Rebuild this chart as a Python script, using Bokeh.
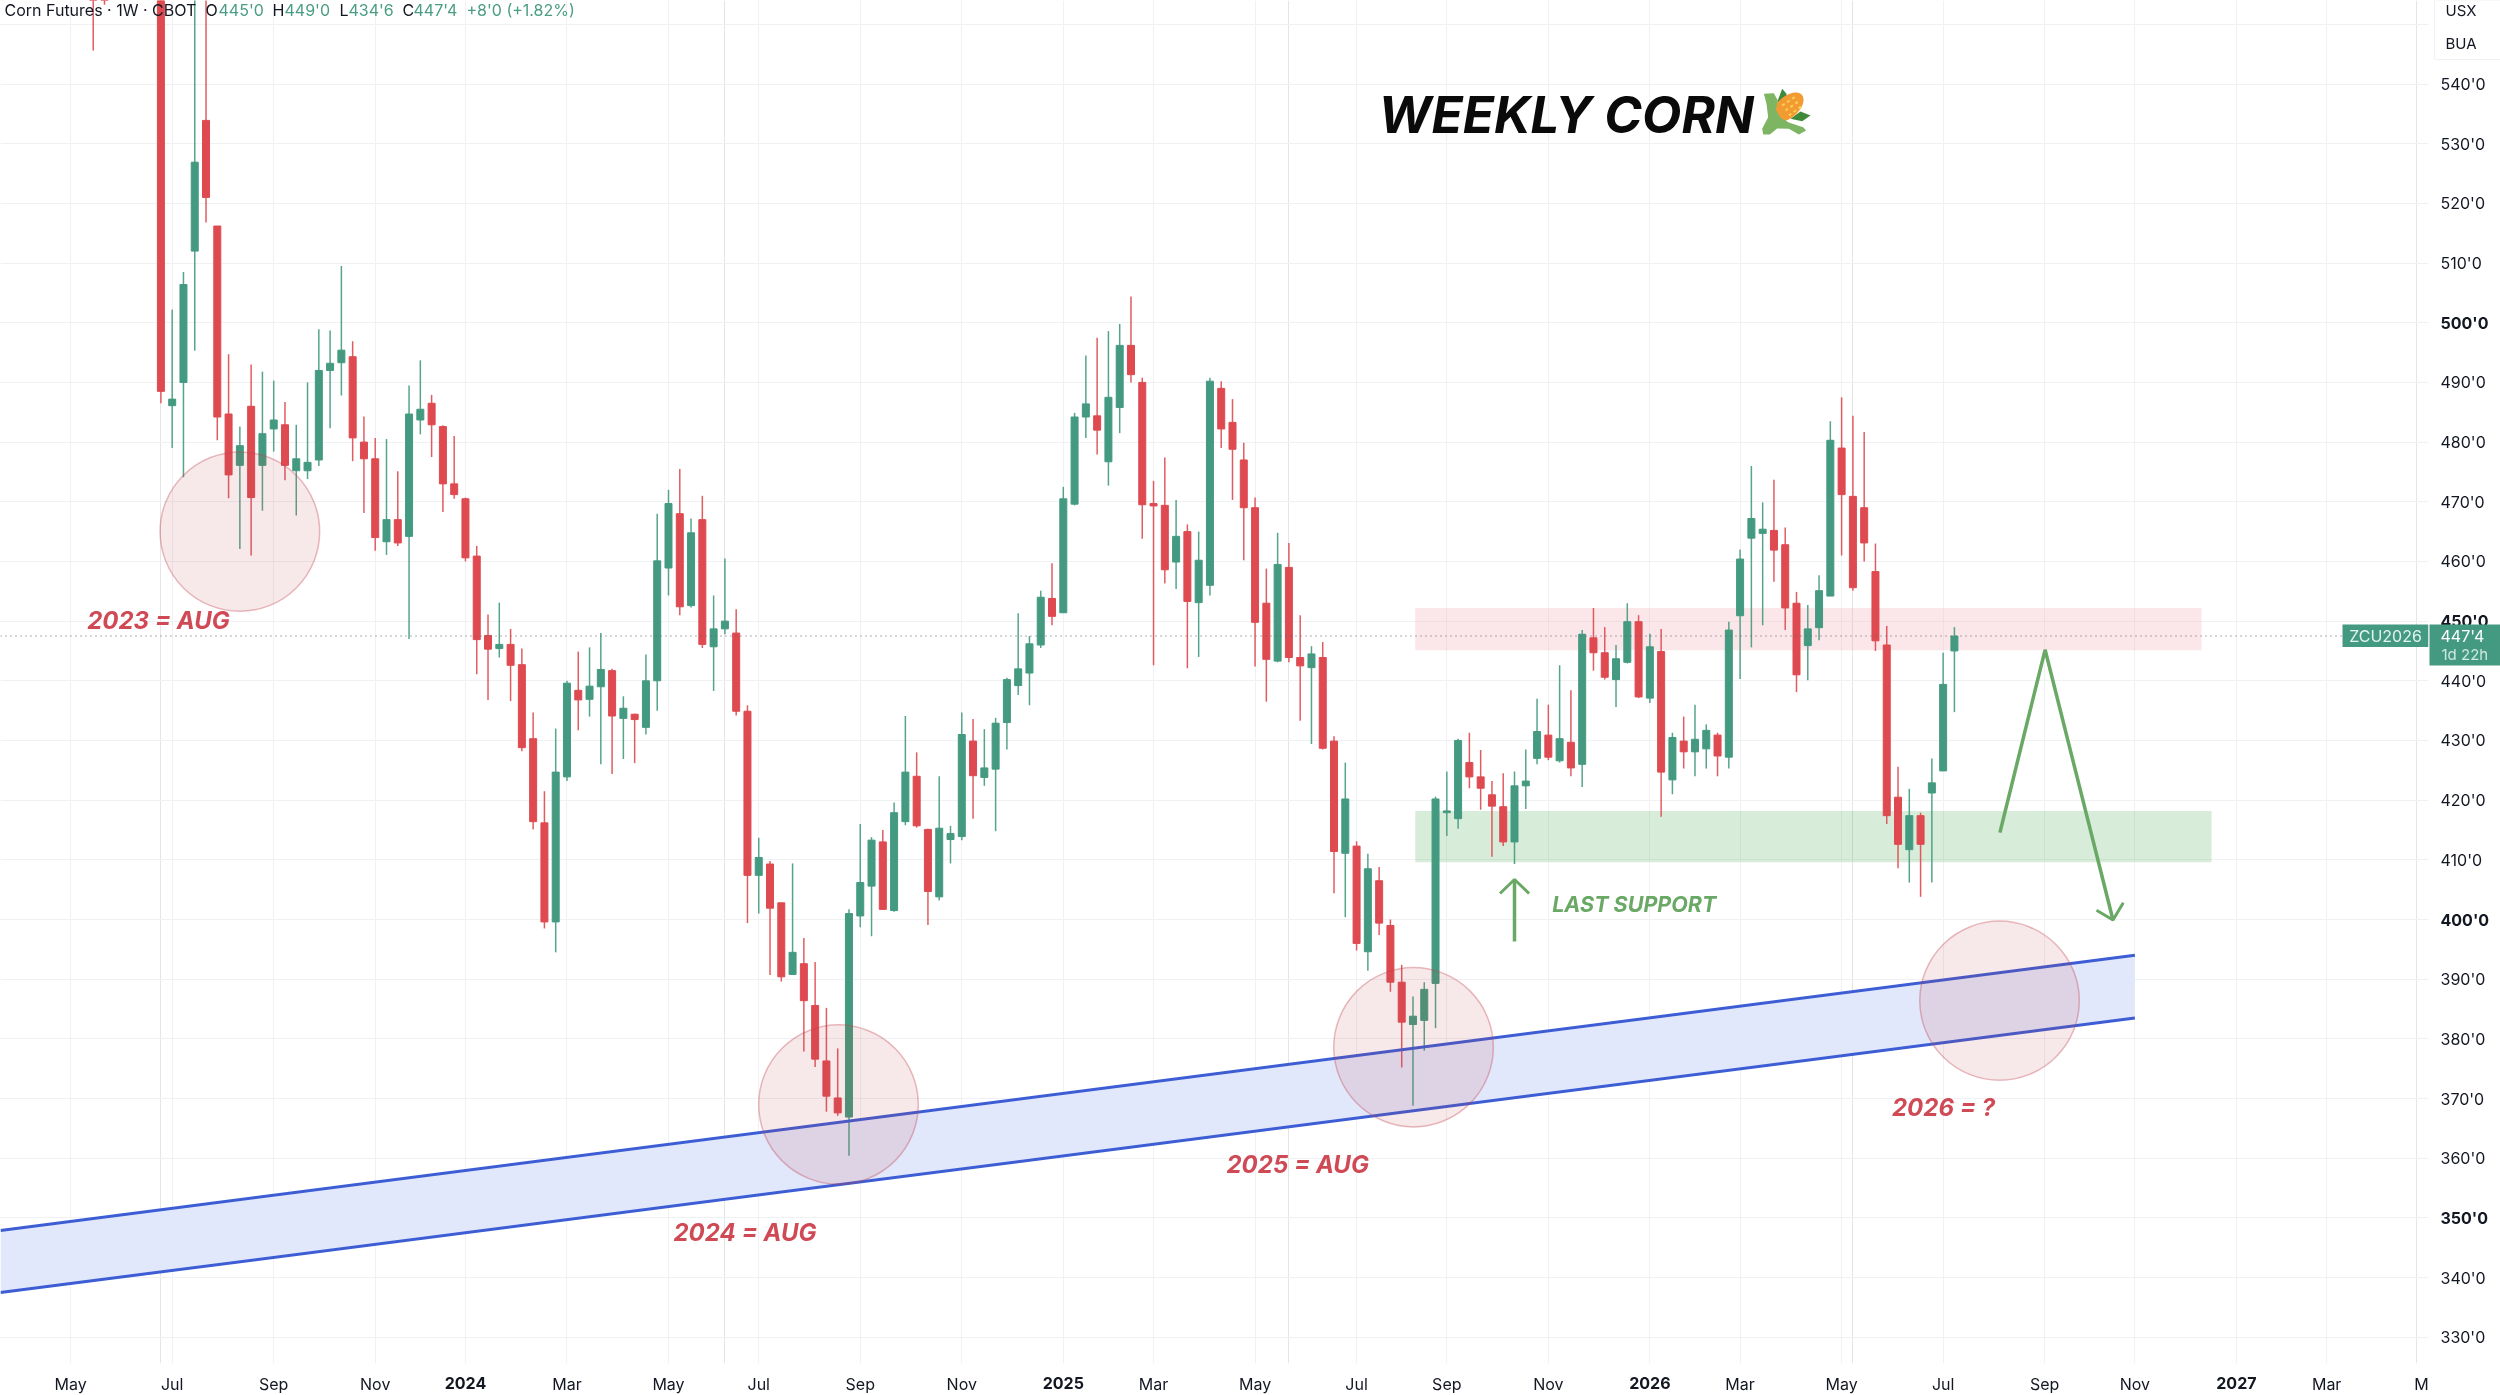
import numpy as np
from bokeh.core.properties import value
from bokeh.embed import file_html
from bokeh.resources import INLINE
from bokeh.plotting import figure
from bokeh.models import (ColumnDataSource, FixedTicker, Grid, Label, LinearAxis, Range1d)

# ---------- data (weekly bars; index 0 = first full candle) ----------
bar_index = [-6, -5] + list(range(160))
opens = [575, 570,
    600,486.1,490.0,512.0,533.9,516.2,484.7,476.1,486,476.1,
    482.2,482.9,475.2,475.2,477,492,493.3,494.3,480,477.2,
    463.3,467,464.2,483.7,486.5,482.6,473,470.5,460.9,447.6,
    445.4,446.1,442.7,430.3,416.2,399.6,423.9,438.4,436.9,439,
    441.7,433.7,434.4,432.2,440,458.9,468,452.6,467,445.7,
    448.7,448,434.9,407.4,409.3,402.8,390.8,392.6,385.6,376.3,
    370.1,366.9,400.6,405.6,413,401.5,416.4,424,415.1,403.8,
    413.4,413.9,429.9,423.8,425.2,433,439.2,441.3,446,453.8,
    451.4,469.6,484.2,484.4,476.7,485.8,496.2,490,469.7,469.4,
    459.9,465,453.1,456,489,483.3,477,469,453,443.3,
    459,443.9,442.2,443.9,429.9,411.1,412.3,394.6,406.5,399,
    389.5,382.4,383.1,389.3,417.9,416.9,426.3,423.9,420.9,418.9,
    413,422.4,427,430.9,426.6,429.7,426,447.2,444.7,440.2,
    443.1,449.9,437.1,444.9,423.4,429.9,428.1,428.6,430.9,427.2,
    450.9,463.9,464.7,465.2,462.8,453,445.9,448.9,454.2,479,
    470.9,469,458.3,446,420.5,411.7,417.4,421.2,424.9,445]
highs = [580, 578,
    605,502.2,508.5,560,560,516.2,494.7,482.6,493,491.8,
    490.3,486.7,482.9,490,498.9,498.7,509.5,496.9,484.3,480.7,
    480.5,475.1,489.5,493.7,487.9,482.8,481,470.7,462.6,451.1,
    453.1,448.7,445.4,434.7,421.5,432,440,444.9,445.6,448,
    442,437.4,434.5,444.4,468,472,475.5,467.2,471,454.3,
    460.5,452,435.9,413.7,409.8,402.8,409.4,396.9,392.9,385.2,
    378.4,401.7,416,413.8,415,419.6,434.1,428,415.2,424,
    415.7,434.7,433.6,431.9,433.8,440.5,451.3,447.5,455.1,459.7,
    472.5,484.9,494.5,497.5,498.6,499.8,504.4,490.8,473.5,477.4,
    470.3,466.2,465,490.8,490.2,487.2,479.9,470.7,458.8,464.8,
    463.1,451,445.8,446.5,430.7,426.3,413.1,411,408.8,400,
    392.4,387.1,389.5,420.6,424.8,430.3,431.3,428.4,423.2,424.5,
    424.8,428.5,437,436,442.6,438.4,448.5,452.2,449,446,
    453,451,447.9,448.7,431.3,434,436,432.7,431.3,449.9,
    462,476,469.9,473.7,465.7,454.9,452.7,457.7,483.5,487.5,
    484.4,481.7,463,449.2,425.6,421.9,417.9,427,444.7,449]
lows = [545.6, 553.3,
    486.5,479.0,474.1,495.3,516.8,480.3,470.6,462.1,461,468.5,
    478.4,473.6,467.7,473.8,476,482.3,487.8,476.8,468.1,461.8,
    461.1,462.6,447,481.3,477.5,468.3,470.5,460,441.1,436.8,
    443.9,436.6,428.2,415.1,398.5,394.5,423.2,431.7,434,426,
    424.4,426.9,426.2,431,435,454.3,451,452.3,445.5,438.3,
    447.8,434.2,399.4,401,390.7,389.6,390.8,377.9,375.3,367.8,
    367.1,360.4,398.7,397.2,401.7,401.3,415.8,415.4,399.1,403.2,
    409.4,413.3,416.9,422.4,414.8,428.5,437.6,435.9,445.5,449.3,
    451.4,469.4,480.7,477.9,472.7,481.5,490,463.8,442.6,456.3,
    455.4,442.1,444,454.3,479,470.3,460.2,442.4,436.5,443.1,
    443.1,433.3,429.4,428.5,404.4,400.4,394.8,391.4,397.4,387.9,
    375.2,368.8,378,381.8,414,415.2,422,418.4,410.5,412.3,
    409.3,418.5,426,426.7,426.3,424,422.2,441.7,440.2,435.6,
    442.9,437.1,436.3,417.2,421,425.3,424,425.3,424,425.3,
    440.3,445.6,449.3,456.6,448.5,438.1,440.1,446.8,454.2,461,
    455.1,460,445,416,408.6,406.2,403.8,406.2,424.9,434.75]
closes = [570, 565,
    488.5,487.2,506.4,526.9,521.0,484.2,474.5,479.4,470.7,481.4,
    483.7,476.1,477.2,476.6,492,493.2,495.4,480.7,477.2,464,
    467,463.1,484.7,485.5,482.9,473,471.2,460.6,446.9,445.3,
    446.1,442.6,428.8,416.4,399.6,424.7,439.6,436.8,439.1,441.9,
    434.1,435.4,433.5,440,460.1,469.7,452.4,464.8,446.1,448.7,
    450,434.9,407.4,410.4,401.9,390.4,394.5,386.4,376.6,370.4,
    367.6,401,406.2,413.3,401.7,417.9,424.7,415.7,404.7,415.3,
    414.4,431,424.1,425.4,432.9,440.2,442,446.2,454,450.8,
    470.5,484.2,486.4,482,487.5,496.2,491.3,469.5,469.3,458.6,
    464.2,453.3,460.2,490.2,482.2,478.8,469,449.8,443.6,459.5,
    443.9,442.5,444.5,428.7,411.4,420.2,396,408.5,399.4,389.5,
    382.8,383.8,388.3,420.2,418.2,430,423.9,422,419,413,
    422.4,423.2,431.5,427.2,430.3,425.4,447.8,444.7,440.6,443.7,
    449.9,437.3,445.7,424.7,430.5,428.1,430.2,431.7,427.4,448.5,
    460.4,467.2,465.4,461.9,452.2,441,448.7,455.1,480.3,471.2,
    455.6,463.1,446.7,417.4,412.6,417.4,412.6,422.9,439.4,447.5]

y_ticks = [330, 340, 360, 370, 380, 390, 410, 420, 430, 440, 460, 470, 480, 490, 510, 520, 530, 540]
y_ticks_bold = [350, 400, 450, 500]
y_grid = list(range(330, 560, 10))
x_tick_pos = [-8, 1, 10, 19, 36, 45, 53, 62, 71, 88, 97, 106, 114, 123, 140, 149, 158, 167, 175, 192, 200.4]
x_tick_txt = ["May", "Jul", "Sep", "Nov", "Mar", "May", "Jul", "Sep", "Nov", "Mar", "May", "Jul", "Sep", "Nov",
              "Mar", "May", "Jul", "Sep", "Nov", "Mar", "M"]
x_year_pos = [27, 80, 132, 184]
x_year_txt = ["2024", "2025", "2026", "2027"]
x_grid = [-8, 1, 10, 19, 27, 36, 45, 53, 62, 71, 80, 88, 97, 106, 114, 123, 132, 140, 149, 158, 167, 175, 184, 192]

channel_x = [-14.22, 175]
channel_upper = [347.9, 394]
channel_lower = [337.5, 383.5]
circle_x = [7.0, 60.07, 111.05, 163.0]
circle_y = [465.0, 369.0, 378.6, 386.4]
last_price = 447.5
resist_zone = (111.2, 180.9, 445.1, 452.2)
support_zone = (111.2, 181.8, 409.6, 418.2)

# ---------- layout: reference pixel <-> data ----------
W, H = 2500, 1395
FW, FH = 2428, 1363
PX_BAR0, PX_PER_BAR = 160.4, 11.28
PY_540, PY_PER_UNIT = 83.5, 5.968
def X(px): return (np.asarray(px, dtype=float) - PX_BAR0) / PX_PER_BAR
def Y(py): return 540 - (np.asarray(py, dtype=float) - PY_540) / PY_PER_UNIT
def PX(bar): return PX_BAR0 + np.asarray(bar, dtype=float) * PX_PER_BAR
def PY(val): return PY_540 + (540 - np.asarray(val, dtype=float)) * PY_PER_UNIT

UP, DOWN = "#449a80", "#de4a50"
FONT = "Inter"
INK = "#131722"

p = figure(width=W, height=H, frame_width=FW, frame_height=FH, output_backend="svg", toolbar_location=None,
           x_range=Range1d(float(X(0)), float(X(FW))), y_range=Range1d(float(Y(FH)), float(Y(0))),
           x_axis_location=None, y_axis_location=None,
           min_border_left=0, min_border_top=0, min_border_right=0, min_border_bottom=0,
           outline_line_color=None, background_fill_color="white", border_fill_color="white",
           styles={"position": "fixed", "left": "0px", "top": "0px"})

yaxis = LinearAxis(ticker=FixedTicker(ticks=y_ticks),
                   major_label_overrides={t: f"{t}'0" for t in y_ticks},
                   major_tick_line_color=None, minor_tick_line_color=None, axis_line_color=None,
                   major_tick_out=0, major_tick_in=0, minor_tick_out=0, minor_tick_in=0,
                   major_label_standoff=12, major_label_text_font=FONT, major_label_text_font_size="16px",
                   major_label_text_color=INK)
p.add_layout(yaxis, "right")
xaxis = LinearAxis(ticker=FixedTicker(ticks=x_tick_pos),
                   major_label_overrides=dict(zip(x_tick_pos, x_tick_txt)),
                   major_tick_line_color=None, minor_tick_line_color=None, axis_line_color=None,
                   major_tick_out=0, major_tick_in=0, minor_tick_out=0, minor_tick_in=0,
                   major_label_standoff=10, major_label_text_font=FONT, major_label_text_font_size="16px",
                   major_label_text_color=INK)
p.add_layout(xaxis, "below")

p.add_layout(Grid(dimension=0, axis=xaxis, ticker=FixedTicker(ticks=x_grid), grid_line_color="#f0f1f4", grid_line_width=1))
p.add_layout(Grid(dimension=1, axis=yaxis, ticker=FixedTicker(ticks=y_grid), grid_line_color="#f0f1f4", grid_line_width=1))

# zones under the candles
p.quad(left=resist_zone[0], right=resist_zone[1], bottom=resist_zone[2], top=resist_zone[3],
       fill_color="#f0a0a8", fill_alpha=0.25, line_color=None)
p.quad(left=support_zone[0], right=support_zone[1], bottom=support_zone[2], top=support_zone[3],
       fill_color="#4caf50", fill_alpha=0.22, line_color=None)

# rising channel
p.patch(channel_x + channel_x[::-1], channel_upper + channel_lower[::-1], fill_color="#e2e8fb", line_color=None)

# candles
o, c = np.array(opens), np.array(closes)
colors = [UP if a >= b else DOWN for a, b in zip(closes, opens)]
src = ColumnDataSource(dict(x=bar_index, o=opens, h=highs, l=lows, c=closes,
                            top=np.maximum(o, c), bot=np.minimum(o, c), col=colors))
p.segment("x", "h", "x", "l", source=src, line_color="col", line_width=1.5, line_alpha=0.9)
p.vbar(x="x", width=0.62, top="top", bottom="bot", source=src, fill_color="col", line_color="col", line_width=1)

# channel borders above the candles
p.line(channel_x, channel_upper, line_color="#3d5dd4", line_width=3)
p.line(channel_x, channel_lower, line_color="#3d5dd4", line_width=3)

# August circles
p.ellipse(x=circle_x, y=circle_y, width=14.15, height=26.7, fill_color="#c0404a", fill_alpha=0.12,
          line_color="#c0404a", line_alpha=0.35, line_width=1.5)

# last price dotted line
p.line(X([0, 2342]), [last_price, last_price], line_color="#5d606b", line_width=1, line_dash="1 4")

# green arrows
GREEN = "#6aa865"
p.line(X([1514, 1514]), Y([941, 879]), line_color=GREEN, line_width=3.5)
p.line(X([1499.5, 1514, 1528.6]), Y([893, 879, 893]), line_color=GREEN, line_width=3)
p.line(X([1999.4, 2044.6, 2112.5]), Y([832.2, 649.3, 919.5]), line_color=GREEN, line_width=3.5)
p.line(X([2096, 2112.5, 2122.8]), Y([909.7, 919.5, 902.3]), line_color=GREEN, line_width=3)

# corn icon
def cz(zx, zy):
    return X(1340 + np.asarray(zx, dtype=float) / 3), Y(60 + np.asarray(zy, dtype=float) / 3)
xs, ys = cz([1325, 1338, 1340, 1310], [85, 100, 130, 125]); p.patch(xs, ys, fill_color="#3e8a3a", line_color=None)
xs, ys = cz([1410, 1380, 1350, 1385], [165, 153, 175, 182]); p.patch(xs, ys, fill_color="#3e8a3a", line_color=None)
t = np.linspace(0, 2 * np.pi, 40, endpoint=False)
ex = 1342 + 56 * np.cos(t) * np.cos(-0.72) - 32 * np.sin(t) * np.sin(-0.72)
ey = 140 + 56 * np.cos(t) * np.sin(-0.72) + 32 * np.sin(t) * np.cos(-0.72)
xs, ys = cz(ex, ey); p.patch(xs, ys, fill_color="#f29b33", line_color=None)
xs, ys = cz([1270, 1300, 1312, 1306, 1320, 1345, 1388, 1397, 1375, 1345, 1310, 1288, 1268, 1265, 1283, 1278],
            [100, 98, 120, 148, 172, 186, 200, 210, 222, 205, 204, 222, 222, 205, 170, 130])
p.patch(xs, ys, fill_color="#7db562", line_color=None)
for a, b in (((1325, 135), (1365, 108)), ((1335, 150), (1375, 122)), ((1345, 165), (1382, 138))):
    xs, ys = cz([a[0], b[0]], [a[1], b[1]])
    p.line(xs, ys, line_color="#fbd04f", line_width=2, line_dash="3 3")

# texts inside the plot area
def lab(px, py, text, size, color=INK, style="normal", align="left", font=FONT, **kw):
    p.add_layout(Label(x=px, y=FH - py, x_units="screen", y_units="screen", text=text, level="overlay",
                       text_font=font, text_font_size=f"{size}px", text_color=color, text_font_style=style,
                       text_align=align, text_baseline="middle", **kw))

p.quad(left=float(X(2342)), right=float(X(2428)), top=float(Y(624)), bottom=float(Y(646.4)), fill_color=UP, line_color=None)
lab(2385, 635, "ZCU2026", 16, "#e4f3ee", align="center")

hdr_green = "#4a9d84"
lab(4, 9, "Corn Futures · 1W · CBOT", 16)
for px_, s_, col_ in ((205, "O", INK), (218, "445'0", hdr_green), (272, "H", INK), (284, "449'0", hdr_green),
                      (339, "L", INK), (348, "434'6", hdr_green), (402, "C", INK), (413, "447'4", hdr_green),
                      (466, "+8'0 (+1.82%)", hdr_green)):
    lab(px_, 9, s_, 16, col_)

lab(1378, 113.5, "WEEKLY CORN", 51, "#0a0a0a", "bold italic")
RED = "#cf4a55"
lab(86.7, 620, "2023 = AUG", 24, RED, "bold italic")
lab(673, 1232, "2024 = AUG", 24, RED, "bold italic")
lab(1226, 1164, "2025 = AUG", 24, RED, "bold italic")
lab(1891.5, 1107, "2026 = ?", 24, RED, "bold italic")
lab(1551.7, 903, "LAST SUPPORT", 21.5, GREEN, "bold italic")

# transparent overlay over the whole page for what sits in the axis panes
q = figure(width=W, height=H, frame_width=W, frame_height=H, output_backend="svg", toolbar_location=None,
           x_range=Range1d(0, W), y_range=Range1d(H, 0), x_axis_location=None, y_axis_location=None,
           min_border_left=0, min_border_top=0, min_border_right=0, min_border_bottom=0,
           outline_line_color=None, background_fill_color=None, border_fill_color=None,
           styles={"position": "fixed", "left": "0px", "top": "0px"})
q.grid.visible = False

def qtext(px, py, text, size, color=INK, style="normal", align="left"):
    q.text(x=[float(px)], y=[float(py)], text=[text], text_font=value(FONT), text_font_size=f"{size}px",
           text_color=color, text_font_style=style, text_align=align, text_baseline="middle")

for t_ in y_ticks_bold:
    qtext(2440, PY(t_), f"{t_}'0", 16, style="bold")
for pos, txt in zip(x_year_pos, x_year_txt):
    qtext(PX(pos), 1382, txt, 16, style="bold", align="center")

q.quad(left=2429, right=2500, top=624, bottom=665, fill_color=UP, line_color=None)
qtext(2440, 635, "447'4", 16, "#ffffff")
qtext(2441, 654, "1d 22h", 15, "#cfe9df")
q.quad(left=2434, right=2500, top=0, bottom=59, fill_color="white", line_color="#f0f1f4", line_width=1)
qtext(2445, 10, "USX", 15)
qtext(2445, 43, "BUA", 15)

open("out.html", "w").write(file_html([p, q], INLINE))
